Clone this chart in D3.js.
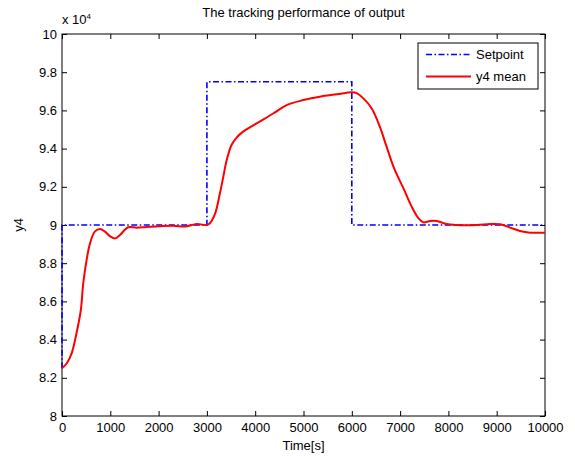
<!DOCTYPE html>
<html>
<head>
<meta charset="utf-8">
<script src="https://cdn.jsdelivr.net/npm/d3@7"></script>
<style>
  body { margin: 0; background: #fff; }
  svg text { font-family: "Liberation Sans", Arial, sans-serif; fill: #000; }
</style>
</head>
<body>
<div id="chart"></div>
<script>
// Data
const xTicks = [0, 1000, 2000, 3000, 4000, 5000, 6000, 7000, 8000, 9000, 10000];
const yTicks = [80000, 82000, 84000, 86000, 88000, 90000, 92000, 94000, 96000, 98000, 100000];

const setpointTime  = [0, 0, 3000, 3000, 6000, 6000, 10000];
const setpointValue = [82500, 90000, 90000, 97500, 97500, 90000, 90000];

const meanTime = [0, 100, 200, 300, 390, 440, 510, 580, 680, 790, 890, 990, 1100, 1200, 1370, 1550, 1750,
  2000, 2300, 2550, 2790, 3000, 3060, 3170, 3270, 3340, 3410, 3510, 3620, 3750, 4030, 4380, 4650, 5000,
  5340, 5690, 6000, 6100, 6240, 6410, 6580, 6720, 6890, 7070, 7240, 7380, 7480, 7620, 7760, 7960, 8170,
  8590, 8860, 9070, 9280, 9480, 9690, 10000];
const meanValue = [82500, 82760, 83280, 84330, 85550, 86950, 88170, 89040, 89650, 89790, 89650, 89420,
  89300, 89480, 89880, 89860, 89900, 89930, 89960, 89920, 90050, 90000, 90090, 90600, 91660, 92530,
  93400, 94190, 94590, 94890, 95320, 95850, 96280, 96540, 96720, 96840, 96950, 96900, 96630, 96110,
  95150, 94100, 92880, 91920, 90960, 90350, 90140, 90210, 90210, 90050, 90000, 90000, 90050, 90040,
  89860, 89690, 89600, 89600];

const seriesNames = ["Setpoint", "y4 mean"];

const margin = {top: 34, right: 30, bottom: 40, left: 62};
const W = 575, H = 456;
const width = W - margin.left - margin.right;
const height = H - margin.top - margin.bottom;

const svg = d3.select("#chart").append("svg")
  .attr("width", W).attr("height", H);
const g = svg.append("g").attr("transform", `translate(${margin.left},${margin.top})`);

const x = d3.scaleLinear().domain([0, 10000]).range([0, width]);
const y = d3.scaleLinear().domain([80000, 100000]).range([height, 0]);

// Axes with inward ticks, mirrored on top and right
const fmtY = d => String(+(d / 10000).toFixed(1));
const axisStyle = sel => {
  sel.select(".domain").remove();
  sel.selectAll("line").attr("stroke", "#000");
  sel.selectAll("text").style("font-size", "13px");
};
g.append("g").attr("transform", `translate(0,${height})`)
  .call(d3.axisBottom(x).tickValues(xTicks).tickSize(-5).tickPadding(7).tickFormat(d3.format("d")))
  .call(axisStyle);
g.append("g")
  .call(d3.axisLeft(y).tickValues(yTicks).tickSize(-5).tickPadding(5).tickFormat(fmtY))
  .call(axisStyle);
g.append("g")
  .call(d3.axisTop(x).tickValues(xTicks).tickSize(-5).tickFormat(""))
  .call(axisStyle);
g.append("g").attr("transform", `translate(${width},0)`)
  .call(d3.axisRight(y).tickValues(yTicks).tickSize(-5).tickFormat(""))
  .call(axisStyle);

g.append("rect").attr("width", width).attr("height", height)
  .attr("fill", "none").attr("stroke", "#000").attr("stroke-width", 1);

// Lines
const line = d3.line().x(d => x(d[0])).y(d => y(d[1]));
const spData = setpointTime.map((t, i) => [t, setpointValue[i]]);
const meanData = meanTime.map((t, i) => [t, meanValue[i]]);

g.append("path").datum(spData).attr("d", line)
  .attr("fill", "none").attr("stroke", "#0000ff").attr("stroke-width", 1.6)
  .attr("stroke-dasharray", "6,2.5,1.5,2.5");

g.append("path").datum(meanData).attr("d", line.curve(d3.curveCatmullRom))
  .attr("fill", "none").attr("stroke", "#ff0000").attr("stroke-width", 2);

// Texts
svg.append("text").attr("x", margin.left + width / 2).attr("y", 17)
  .attr("text-anchor", "middle").style("font-size", "13px")
  .text("The tracking performance of output");
svg.append("text").attr("x", margin.left + width / 2).attr("y", 450)
  .attr("text-anchor", "middle").style("font-size", "13px").text("Time[s]");
svg.append("text").attr("transform", `translate(23,${margin.top + height / 2}) rotate(-90)`)
  .attr("text-anchor", "middle").style("font-size", "13px").text("y4");
const mult = svg.append("text").attr("x", 62).attr("y", 24).style("font-size", "13px");
mult.append("tspan").text("x 10");
mult.append("tspan").attr("dy", -5).style("font-size", "8px").text("4");

// Legend
const legend = svg.append("g").attr("transform", "translate(418,43)");
legend.append("rect").attr("width", 120).attr("height", 46)
  .attr("fill", "#fff").attr("stroke", "#000").attr("stroke-width", 1);
const legendStyles = [
  {color: "#0000ff", dash: "6,2.5,1.5,2.5", w: 1.6},
  {color: "#ff0000", dash: null, w: 2}
];
seriesNames.forEach((name, i) => {
  const yy = 11.5 + i * 22;
  legend.append("line").attr("x1", 8).attr("x2", 53).attr("y1", yy).attr("y2", yy)
    .attr("stroke", legendStyles[i].color).attr("stroke-width", legendStyles[i].w)
    .attr("stroke-dasharray", legendStyles[i].dash);
  legend.append("text").attr("x", 58).attr("y", yy + 4.5)
    .style("font-size", "13px").text(name);
});
</script>
</body>
</html>
